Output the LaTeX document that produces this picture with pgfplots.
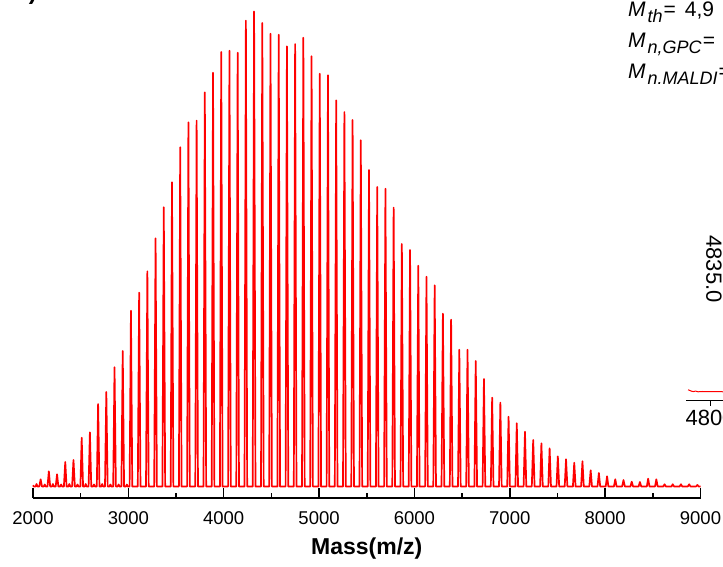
\documentclass[border=0pt]{standalone}
\usepackage{pgfplots}
\pgfplotsset{compat=1.18}
\usepackage{fontspec}
\setmainfont{Liberation Sans}
\newcommand{\Msub}[1]{\textit{M}\kern2pt\raisebox{-5.5pt}{\fontsize{18}{19}\selectfont\textit{#1}}}

\begin{document}
\begin{tikzpicture}[x=1pt,y=1pt]
\begin{axis}[
  at={(33pt,69pt)}, anchor=south west, scale only axis,
  width=667.5pt, height=498pt,
  xmin=2000, xmax=9000, ymin=-11.5, ymax=486.5,
  axis x line=bottom, axis y line=none,
  axis line style={-, line width=1.6pt, black},
  xtick={2000,3000,...,9000},
  xticklabels={2000,3000,4000,5000,6000,7000,8000,9000},
  minor x tick num=1,
  xtick align=inside,
  major tick length=10pt, minor tick length=5pt,
  tick style={black, line width=1.5pt},
  xticklabel style={font=\fontsize{18.5}{20}\selectfont, inner sep=0pt, anchor=north, yshift=-13.5pt},
  xlabel={\textbf{Mass(m/z)}},
  xlabel style={font=\fontsize{23}{25}\selectfont, at={(axis description cs:0.5,0)}, anchor=base, yshift=-57pt, inner sep=0pt},
  clip=false,
]
\addplot[red, line width=1.7pt, line join=round] coordinates {
(2000,1.2) (2008,0)
(2027,0) (2037,2.5) (2047,0)
(2066,0) (2080.1,7.2) (2094,0)
(2113,0) (2123,2) (2133,0)
(2152,0) (2166.2,15.2) (2180,0)
(2199,0) (2209,2.5) (2219,0)
(2238,0) (2252.3,12.2) (2266,0)
(2285,0) (2295,2) (2305,0)
(2324,0) (2338.4,24.5) (2352,0)
(2371,0) (2381,2.5) (2391,0)
(2410,0) (2424.5,26.5) (2439,0)
(2457,0) (2467,2) (2477,0)
(2497,0) (2510.6,48.8) (2525,0)
(2543,0) (2553,2.5) (2563,0)
(2583,0) (2596.7,54.2) (2611,0)
(2630,0) (2640,2) (2650,0)
(2669,0) (2682.8,82.5) (2697,0)
(2716,0) (2726,2.5) (2736,0)
(2755,0) (2768.8,94.5) (2783,0)
(2802,0) (2812,2) (2822,0)
(2841,0) (2854.9,119.2) (2869,0)
(2888,0) (2898,2) (2908,0)
(2927,0) (2941,135.5) (2955,0)
(2974,0) (2984,2) (2994,0)
(3013,0) (3027.1,175.8) (3041,0)
(3099,0) (3113.2,193.8) (3127,0)
(3185,0) (3199.3,215.2) (3213,0)
(3271,0) (3285.4,248.2) (3299,0)
(3357,0) (3371.5,279.2) (3386,0)
(3444,0) (3457.6,304.2) (3472,0)
(3530,0) (3543.7,339.2) (3558,0)
(3616,0) (3629.7,364.2) (3644,0)
(3702,0) (3715.8,365.8) (3730,0)
(3788,0) (3801.9,394.2) (3816,0)
(3874,0) (3888,413.8) (3902,0)
(3960,0) (3974.1,434.5) (3988,0)
(4046,0) (4060.2,435.8) (4074,0)
(4132,0) (4146.3,433.8) (4160,0)
(4218,0) (4232.4,465.8) (4246,0)
(4304,0) (4318.5,475) (4333,0)
(4391,0) (4404.6,463.5) (4419,0)
(4477,0) (4490.6,452.8) (4505,0)
(4563,0) (4576.7,451.8) (4591,0)
(4649,0) (4662.8,440.2) (4677,0)
(4735,0) (4748.9,442.5) (4763,0)
(4821,0) (4835,448.8) (4849,0)
(4907,0) (4921.1,430.2) (4935,0)
(4993,0) (5007.2,412.8) (5021,0)
(5079,0) (5093.3,411.2) (5107,0)
(5165,0) (5179.4,386.2) (5193,0)
(5251,0) (5265.5,374.5) (5280,0)
(5338,0) (5351.5,366.5) (5366,0)
(5424,0) (5437.6,346.2) (5452,0)
(5510,0) (5523.7,316.5) (5538,0)
(5596,0) (5609.8,299.5) (5624,0)
(5682,0) (5695.9,297.8) (5710,0)
(5768,0) (5782,278.8) (5796,0)
(5854,0) (5868.1,242.5) (5882,0)
(5940,0) (5954.2,236.5) (5968,0)
(6026,0) (6040.3,220.8) (6054,0)
(6112,0) (6126.4,209.8) (6140,0)
(6198,0) (6212.4,201.2) (6226,0)
(6284,0) (6298.5,172.8) (6313,0)
(6371,0) (6384.6,166.8) (6399,0)
(6457,0) (6470.7,136.8) (6485,0)
(6543,0) (6556.8,136.8) (6571,0)
(6629,0) (6642.9,125.5) (6657,0)
(6715,0) (6729,107.5) (6743,0)
(6801,0) (6815.1,88.8) (6829,0)
(6887,0) (6901.2,83.8) (6915,0)
(6973,0) (6987.3,69.8) (7001,0)
(7059,0) (7073.3,63.3) (7087,0)
(7145,0) (7159.4,54.8) (7173,0)
(7231,0) (7245.5,46.5) (7260,0)
(7318,0) (7331.6,43.2) (7346,0)
(7404,0) (7417.7,38.2) (7432,0)
(7490,0) (7503.8,30.2) (7518,0)
(7576,0) (7589.9,27.2) (7604,0)
(7662,0) (7676,23.8) (7690,0)
(7748,0) (7762.1,25.2) (7776,0)
(7834,0) (7848.2,16.2) (7862,0)
(7920,0) (7934.2,13.5) (7948,0)
(8006,0) (8020.3,10.2) (8034,0)
(8092,0) (8106.4,7.2) (8120,0)
(8178,0) (8192.5,6.5) (8207,0)
(8265,0) (8278.6,4.8) (8293,0)
(8351,0) (8364.7,4.5) (8379,0)
(8437,0) (8450.8,7.8) (8465,0)
(8523,0) (8536.9,7.2) (8551,0)
(8609,0) (8623,2.2) (8637,0)
(8695,0) (8709.1,2.2) (8723,0)
(8781,0) (8795.1,2.2) (8809,0)
(8867,0) (8881.2,2.2) (8895,0)
(8953,0) (8967.3,1.5) (8981,0)
(9000,0)
};
\end{axis}

\begin{axis}[
  at={(686pt,166pt)}, anchor=south west, scale only axis,
  width=264pt, height=100pt,
  xmin=4790, xmax=4900, ymin=-9, ymax=91,
  axis x line=bottom, axis y line=none,
  axis line style={-, line width=1pt, black},
  xtick={4800}, xticklabels={4800},
  xtick align=outside, major tick length=5pt,
  tick style={black, line width=1pt},
  xticklabel style={font=\fontsize{22}{24}\selectfont, inner sep=0pt, anchor=north, yshift=-4pt},
]
\addplot[red, line width=1pt] coordinates {
 (4790.9,2.2) (4791.5,1.6) (4792.3,0.8) (4793,0.4) (4794,0.9) (4795,0.2)
 (4797,0.5) (4799,0.3) (4802,0.4) (4806,0.2) (4812,0.3) (4820,0.3)
 (4828,0.5) (4832,2) (4834,40) (4835,84) (4836,40) (4838,2) (4845,0.4) (4900,0.3)};
\end{axis}

\node[anchor=base west, inner sep=0pt, font=\fontsize{21}{22}\selectfont] at (628,550.3)
  {\Msub{th}\kern1pt=\hspace{9pt}4,9};
\node[anchor=base west, inner sep=0pt, font=\fontsize{21}{22}\selectfont] at (628,519.3)
  {\Msub{n,GPC}\kern1pt=};
\node[anchor=base west, inner sep=0pt, font=\fontsize{21}{22}\selectfont] at (628,488)
  {\Msub{n.MALDI}\kern1pt=};
\node[rotate=-90, inner sep=0pt, font=\fontsize{22}{24}\selectfont] at (714,298) {4835.0};
\node[anchor=base east, inner sep=0pt, font=\bfseries\fontsize{24}{26}\selectfont] at (37,567) {b)};

\pgfresetboundingbox
\path[use as bounding box] (0,0) rectangle (723,567);
\end{tikzpicture}
\end{document}
